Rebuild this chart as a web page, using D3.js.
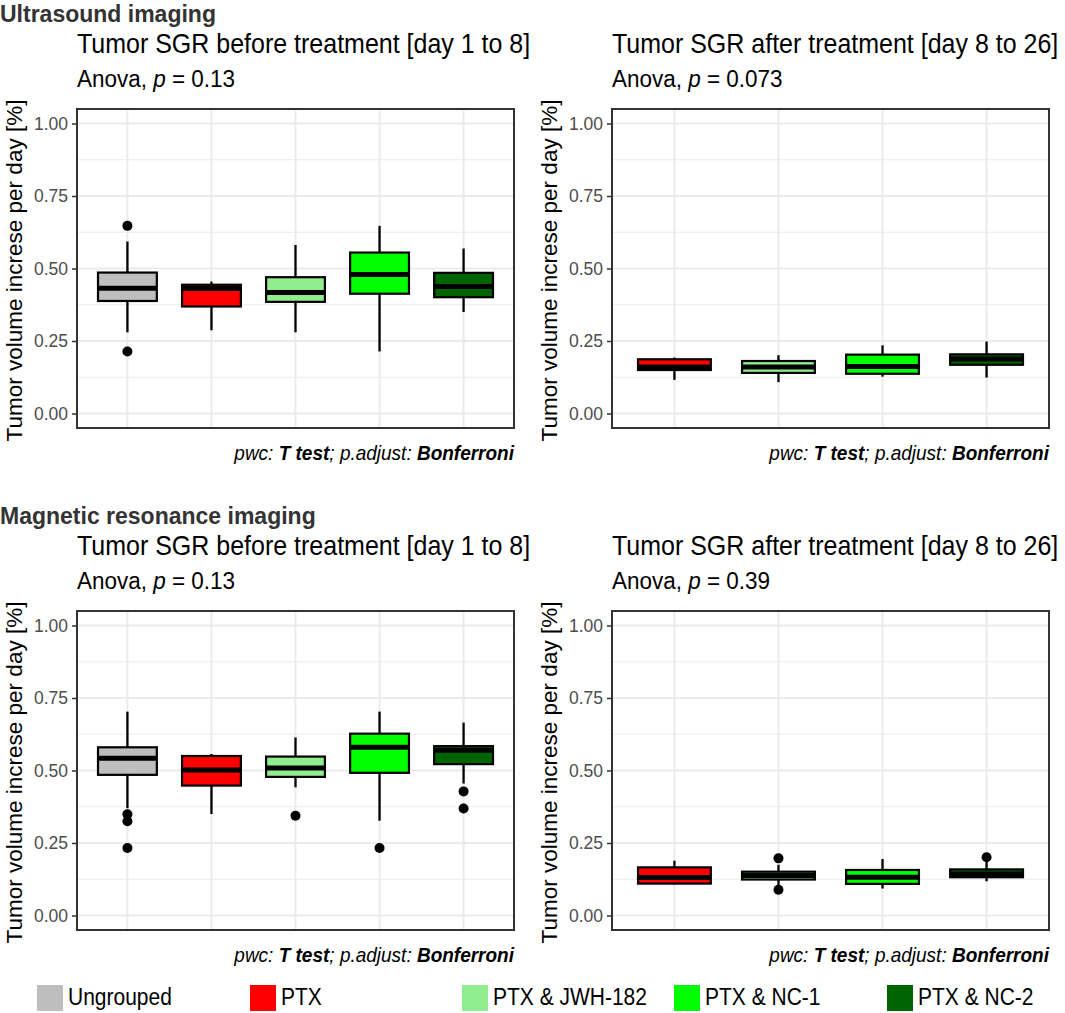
<!DOCTYPE html>
<html>
<head>
<meta charset="utf-8">
<script src="https://cdn.jsdelivr.net/npm/d3@7"></script>
<style>
  html, body { margin: 0; padding: 0; background: #ffffff; }
  svg { display: block; font-family: "Liberation Sans", Arial, sans-serif; }
</style>
</head>
<body>
<svg id="chart" width="1065" height="1013"></svg>
<script>
// ---------------- DATA ----------------
const groups = ["Ungrouped", "PTX", "PTX & JWH-182", "PTX & NC-1", "PTX & NC-2"];
const groupColors = ["#bebebe", "#ff0000", "#90ee90", "#00ff00", "#006400"];
const yTicks = [0, 0.25, 0.5, 0.75, 1];
const yTickLabels = ["0.00", "0.25", "0.50", "0.75", "1.00"];
const yMinorTicks = [0.125, 0.375, 0.625, 0.875];

const sectionTitles = ["Ultrasound imaging", "Magnetic resonance imaging"];
const panelTitles = ["Tumor SGR before treatment [day 1 to 8]", "Tumor SGR after treatment [day 8 to 26]"];
const anovaP = [["0.13", "0.073"], ["0.13", "0.39"]];
const yAxisTitle = "Tumor volume increse per day [%]";

// Ultrasound, before treatment
const usBeforeGroups = ["Ungrouped", "PTX", "PTX & JWH-182", "PTX & NC-1", "PTX & NC-2"];
const usBeforeLower = [0.280, 0.287, 0.280, 0.214, 0.350];
const usBeforeQ1 = [0.388, 0.369, 0.385, 0.413, 0.401];
const usBeforeMedian = [0.432, 0.431, 0.417, 0.479, 0.438];
const usBeforeQ3 = [0.486, 0.444, 0.470, 0.555, 0.485];
const usBeforeUpper = [0.593, 0.455, 0.581, 0.647, 0.569];
const usBeforeOutliers = [[0.647, 0.214], [], [], [], []];

// Ultrasound, after treatment
const usAfterGroups = ["PTX", "PTX & JWH-182", "PTX & NC-1", "PTX & NC-2"];
const usAfterLower = [0.116, 0.108, 0.127, 0.124];
const usAfterQ1 = [0.150, 0.140, 0.137, 0.168];
const usAfterMedian = [0.160, 0.160, 0.162, 0.188];
const usAfterQ3 = [0.187, 0.181, 0.203, 0.204];
const usAfterUpper = [0.193, 0.201, 0.235, 0.248];
const usAfterOutliers = [[], [], [], []];

// MRI, before treatment
const mriBeforeGroups = ["Ungrouped", "PTX", "PTX & JWH-182", "PTX & NC-1", "PTX & NC-2"];
const mriBeforeLower = [0.370, 0.350, 0.442, 0.327, 0.455];
const mriBeforeQ1 = [0.485, 0.448, 0.478, 0.492, 0.522];
const mriBeforeMedian = [0.542, 0.502, 0.509, 0.580, 0.570];
const mriBeforeQ3 = [0.580, 0.550, 0.548, 0.627, 0.584];
const mriBeforeUpper = [0.703, 0.557, 0.614, 0.703, 0.665];
const mriBeforeOutliers = [[0.349, 0.325, 0.233], [], [0.344], [0.233], [0.428, 0.369]];

// MRI, after treatment
const mriAfterGroups = ["PTX", "PTX & JWH-182", "PTX & NC-1", "PTX & NC-2"];
const mriAfterLower = [0.107, 0.105, 0.093, 0.118];
const mriAfterQ1 = [0.110, 0.124, 0.109, 0.132];
const mriAfterMedian = [0.131, 0.138, 0.132, 0.143];
const mriAfterQ3 = [0.166, 0.151, 0.157, 0.159];
const mriAfterUpper = [0.189, 0.175, 0.195, 0.185];
const mriAfterOutliers = [[], [0.197, 0.089], [], [0.201]];

// ---------------- LAYOUT ----------------
const svg = d3.select("#chart");
const FONT = '"Liberation Sans", Arial, sans-serif';

const colX = [77, 612];
const panelW = 437;
const rowY = [109, 611];
const panelH = 319;

const panels = [
  { row: 0, col: 0, groups: usBeforeGroups, lo: usBeforeLower, q1: usBeforeQ1, med: usBeforeMedian, q3: usBeforeQ3, hi: usBeforeUpper, out: usBeforeOutliers },
  { row: 0, col: 1, groups: usAfterGroups, lo: usAfterLower, q1: usAfterQ1, med: usAfterMedian, q3: usAfterQ3, hi: usAfterUpper, out: usAfterOutliers },
  { row: 1, col: 0, groups: mriBeforeGroups, lo: mriBeforeLower, q1: mriBeforeQ1, med: mriBeforeMedian, q3: mriBeforeQ3, hi: mriBeforeUpper, out: mriBeforeOutliers },
  { row: 1, col: 1, groups: mriAfterGroups, lo: mriAfterLower, q1: mriAfterQ1, med: mriAfterMedian, q3: mriAfterQ3, hi: mriAfterUpper, out: mriAfterOutliers }
];

const colorOf = d3.scaleOrdinal().domain(groups).range(groupColors);

// text placed at (x, y) and slightly stretched vertically
function stretchedText(parent, x, y, sy) {
  return parent.append("text").attr("transform", `translate(${x},${y}) scale(1,${sy})`);
}

// section titles
sectionTitles.forEach((t, r) => {
  svg.append("text").attr("x", 0).attr("y", rowY[r] - 87)
    .attr("font-size", 23).attr("font-weight", "bold").attr("fill", "#333333")
    .text(t);
});

panels.forEach(p => {
  const x0 = colX[p.col], y0 = rowY[p.row];
  const g = svg.append("g");

  const y = d3.scaleLinear().domain([-0.05, 1.05]).range([y0 + panelH, y0]);
  const x = d3.scalePoint().domain(p.groups).range([x0, x0 + panelW]).padding(0.6);
  const bw = x.step() * 0.7;

  // titles
  stretchedText(g, x0, y0 - 56, 1.1)
    .attr("font-size", 25).attr("fill", "#000").text(panelTitles[p.col]);
  const sub = stretchedText(g, x0, y0 - 22, 1.05)
    .attr("font-size", 22.5).attr("fill", "#000");
  sub.append("tspan").text("Anova, ");
  sub.append("tspan").attr("font-style", "italic").text("p");
  sub.append("tspan").text(" = " + anovaP[p.row][p.col]);

  // background grid
  g.selectAll(".minor").data(yMinorTicks).enter().append("line")
    .attr("x1", x0).attr("x2", x0 + panelW)
    .attr("y1", d => y(d)).attr("y2", d => y(d))
    .attr("stroke", "#ebebeb").attr("stroke-width", 1);
  g.selectAll(".major").data(yTicks).enter().append("line")
    .attr("x1", x0).attr("x2", x0 + panelW)
    .attr("y1", d => y(d)).attr("y2", d => y(d))
    .attr("stroke", "#ebebeb").attr("stroke-width", 2);
  g.selectAll(".vmajor").data(p.groups).enter().append("line")
    .attr("x1", d => x(d)).attr("x2", d => x(d))
    .attr("y1", y0).attr("y2", y0 + panelH)
    .attr("stroke", "#ebebeb").attr("stroke-width", 2);

  // y axis
  const axis = d3.axisLeft(y).tickValues(yTicks)
    .tickFormat((d, i) => yTickLabels[i]).tickSize(5).tickPadding(4);
  const ag = g.append("g").attr("transform", `translate(${x0},0)`).call(axis);
  ag.select(".domain").remove();
  ag.selectAll(".tick line").attr("stroke", "#333333").attr("stroke-width", 1.5);
  ag.selectAll(".tick text").attr("fill", "#4d4d4d").attr("font-size", 17.5).attr("font-family", FONT);

  // y axis title
  g.append("text")
    .attr("transform", `translate(${x0 - 55},${y0 + panelH / 2 + 2}) rotate(-90)`)
    .attr("text-anchor", "middle").attr("font-size", 22.5).attr("fill", "#000")
    .text(yAxisTitle);

  // boxes
  const items = p.groups.map((gName, i) => ({ g: gName, i }));
  const bx = g.selectAll(".box").data(items).enter().append("g");
  // whiskers
  bx.append("line").attr("x1", d => x(d.g)).attr("x2", d => x(d.g))
    .attr("y1", d => y(p.hi[d.i])).attr("y2", d => y(p.q3[d.i]))
    .attr("stroke", "#000").attr("stroke-width", 2.3);
  bx.append("line").attr("x1", d => x(d.g)).attr("x2", d => x(d.g))
    .attr("y1", d => y(p.q1[d.i])).attr("y2", d => y(p.lo[d.i]))
    .attr("stroke", "#000").attr("stroke-width", 2.3);
  bx.append("rect")
    .attr("x", d => x(d.g) - bw / 2).attr("width", bw)
    .attr("y", d => y(p.q3[d.i])).attr("height", d => y(p.q1[d.i]) - y(p.q3[d.i]))
    .attr("fill", d => colorOf(d.g)).attr("stroke", "#000").attr("stroke-width", 2.2);
  bx.append("line")
    .attr("x1", d => x(d.g) - bw / 2).attr("x2", d => x(d.g) + bw / 2)
    .attr("y1", d => y(p.med[d.i])).attr("y2", d => y(p.med[d.i]))
    .attr("stroke", "#000").attr("stroke-width", 5);
  // outliers
  const outs = [];
  p.groups.forEach((gName, i) => p.out[i].forEach(v => outs.push({ g: gName, v })));
  g.selectAll(".out").data(outs).enter().append("circle")
    .attr("cx", d => x(d.g)).attr("cy", d => y(d.v)).attr("r", 5).attr("fill", "#000");

  // panel border
  g.append("rect").attr("x", x0).attr("y", y0).attr("width", panelW).attr("height", panelH)
    .attr("fill", "none").attr("stroke", "#333333").attr("stroke-width", 2);

  // caption
  const cap = stretchedText(g, x0 + panelW, y0 + panelH + 32, 1.05)
    .attr("text-anchor", "end").attr("font-size", 19).attr("font-style", "italic").attr("fill", "#000");
  cap.append("tspan").text("pwc: ");
  cap.append("tspan").attr("font-weight", "bold").text("T test");
  cap.append("tspan").text("; p.adjust: ");
  cap.append("tspan").attr("font-weight", "bold").text("Bonferroni");
});

// legend
const legendX = [37, 250, 462, 674, 887];
const lg = svg.append("g");
groups.forEach((gName, i) => {
  lg.append("rect").attr("x", legendX[i]).attr("y", 985).attr("width", 26).attr("height", 26)
    .attr("fill", colorOf(gName));
  stretchedText(lg, legendX[i] + 31, 1005, 1.12)
    .attr("font-size", 21).attr("fill", "#000").text(gName);
});
</script>
</body>
</html>
